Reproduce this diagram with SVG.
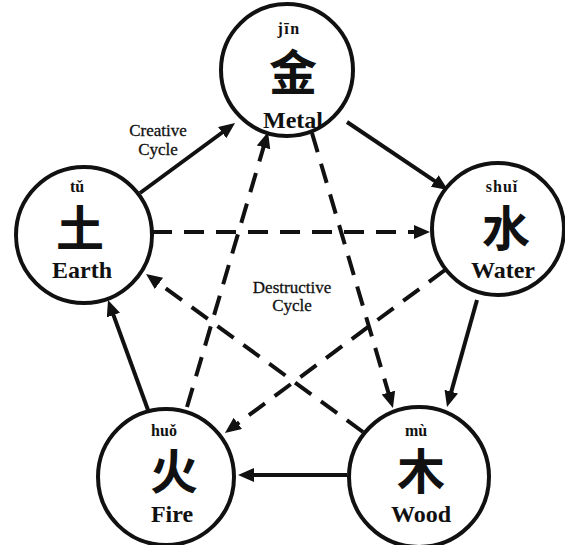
<svg xmlns="http://www.w3.org/2000/svg" width="565" height="545" viewBox="0 0 565 545">
<style>
.ring{fill:#fff;stroke:#111;stroke-width:4}
.py{font-family:"Liberation Serif",serif;font-weight:bold;font-size:16px;fill:#111;text-anchor:middle}
.zh{font-family:"Liberation Serif","Noto Sans CJK SC",sans-serif;font-weight:bold;font-size:48px;fill:#111;text-anchor:middle}
.en{font-family:"Liberation Serif",serif;font-weight:bold;font-size:24px;fill:#111;text-anchor:middle}
.lbl{font-family:"Liberation Serif",serif;font-size:17px;fill:#111;stroke:#111;stroke-width:0.3;text-anchor:middle}
.solid{stroke:#111;stroke-width:4;fill:none;marker-end:url(#ah)}
.dash{stroke:#111;stroke-width:4;fill:none;stroke-dasharray:20 12;marker-end:url(#ah)}
</style>
<defs>
<marker id="ah" markerUnits="userSpaceOnUse" markerWidth="18" markerHeight="16" refX="6" refY="7" orient="auto">
<path d="M0,0 L16,7 L0,14 z" fill="#111"/>
</marker>
</defs>
<rect width="565" height="545" fill="#fff"/>
<g id="connectors">
<line class="solid" x1="140" y1="193" x2="227" y2="129"/>
<line class="solid" x1="347" y1="122" x2="439.7" y2="184.4"/>
<line class="solid" x1="477" y1="300" x2="449.7" y2="397.4"/>
<line class="solid" x1="347" y1="475" x2="248" y2="475"/>
<line class="solid" x1="148" y1="410" x2="111.4" y2="309.4"/>
<line class="dash" x1="152" y1="232" x2="420" y2="232"/>
<line class="dash" x1="445" y1="270" x2="233" y2="427"/>
<line class="dash" x1="187" y1="407" x2="265.2" y2="141.6"/>
<line class="dash" x1="312" y1="133" x2="390.1" y2="398.4"/>
<line class="dash" x1="363" y1="432" x2="154.1" y2="279.9"/>
</g>
<g id="metal">
<circle class="ring" cx="287" cy="70" r="66"/>
<text class="py" x="289" y="34" letter-spacing="1.5">jīn</text>
<text class="zh" x="293" y="90">金</text>
<text class="en" x="293" y="128">Metal</text>
</g>
<g id="earth">
<circle class="ring" cx="84" cy="235" r="68"/>
<text class="py" x="77" y="192">tǔ</text>
<text class="zh" x="80" y="246">土</text>
<text class="en" x="82" y="278">Earth</text>
</g>
<g id="water">
<circle class="ring" cx="498" cy="229" r="66"/>
<text class="py" x="502" y="192" letter-spacing="1">shuǐ</text>
<text class="zh" x="506" y="246">水</text>
<text class="en" x="503" y="278">Water</text>
</g>
<g id="fire">
<circle class="ring" cx="166" cy="477" r="68"/>
<text class="py" x="164" y="436">huǒ</text>
<text class="zh" x="174" y="489">火</text>
<text class="en" x="172" y="522">Fire</text>
</g>
<g id="wood">
<circle class="ring" cx="419" cy="477" r="70"/>
<text class="py" x="416" y="436">mù</text>
<text class="zh" x="421" y="489">木</text>
<text class="en" x="421" y="522">Wood</text>
</g>
<g id="labels">
<text class="lbl" x="158" y="136">Creative</text>
<text class="lbl" x="158" y="155">Cycle</text>
<text class="lbl" x="292" y="293">Destructive</text>
<text class="lbl" x="292" y="311">Cycle</text>
</g>
</svg>
